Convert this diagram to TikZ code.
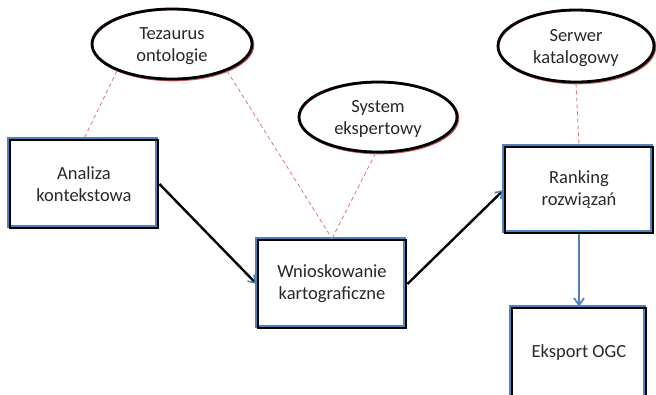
\documentclass[tikz,border=0pt]{standalone}
\usepackage{fontspec}
\setmainfont{Carlito}
\usetikzlibrary{shapes.geometric,arrows.meta}
\definecolor{txt}{RGB}{40,40,40}
\definecolor{pinkline}{RGB}{222,120,120}
\definecolor{boxblue}{RGB}{79,129,189}
\definecolor{ellred}{RGB}{200,90,90}
\tikzset{
  lbl/.style={font=\fontsize{18.5}{22}\selectfont, text=txt, align=center},
  boxnode/.style={lbl, draw=black, line width=2.8pt, rectangle, inner sep=0pt},
  ellnode/.style={lbl, draw=black, line width=2.8pt, ellipse, inner sep=0pt},
  boxshadow/.style={draw=boxblue, line width=2.2pt},
  ellshadow/.style={draw=ellred, line width=1.6pt},
  link/.style={draw=pinkline, line width=0.8pt, dash pattern=on 4pt off 3pt},
  flow/.style={draw=black, line width=2.4pt, -{Straight Barb[color=boxblue, length=7pt, width=9pt, line width=1.6pt]}},
  bflow/.style={draw=boxblue, line width=2.4pt, -{Straight Barb[length=7pt, width=10pt, line width=1.8pt]}}
}
\begin{document}
\begin{tikzpicture}[x=1pt,y=-1pt]
\useasboundingbox (0,0) rectangle (656,394);
\clip (0,0) rectangle (656,394);
% shadows (drawn first)
\draw[boxshadow] (8.5,138.5) rectangle (156.5,226.5);
\draw[boxshadow] (256.5,238.5) rectangle (404.5,326.5);
\draw[boxshadow] (503.5,145.5) rectangle (651.5,231.5);
\draw[boxshadow] (510.5,306.5) rectangle (644.5,420);
\draw[ellshadow] (173,45) ellipse [x radius=80.5, y radius=35.5];
\draw[ellshadow] (379,118) ellipse [x radius=79.5, y radius=35.5];
\draw[ellshadow] (577,47) ellipse [x radius=78.5, y radius=36.5];
% nodes
\node[ellnode, minimum width=160pt, minimum height=70pt] (tez) at (172,44) {};
\node[lbl] (tezt) at (172,46) {Tezaurus\\ontologie};
\node[ellnode, minimum width=158pt, minimum height=70pt] (sys) at (378,117) {};
\node[lbl] (syst) at (378,119) {System\\ekspertowy};
\node[ellnode, minimum width=156pt, minimum height=72pt] (ser) at (576,46) {};
\node[lbl] (sert) at (576,48) {Serwer\\katalogowy};
\node[boxnode, minimum width=148pt, minimum height=88pt] (ana) at (84,184) {Analiza\\kontekstowa};
\node[boxnode, minimum width=148pt, minimum height=88pt] (wn) at (332,284) {Wnioskowanie\\kartograficzne};
\node[boxnode, minimum width=148pt, minimum height=86pt] (rank) at (579,190) {Ranking\\rozwiązań};
\node[boxnode, minimum width=134pt, minimum height=114pt] (eks) at (579,365) {};
\node[lbl] (ekst) at (579,353) {Eksport OGC};
% dashed links
\draw[link] (tez.206) -- (ana.north);
\draw[link] (tez.334) -- (wn.north);
\draw[link] (sys.266) -- (wn.north);
\draw[link] (ser.south) -- (rank.north);
% flow arrows
\draw[flow] (ana.east) -- (wn.west);
\draw[flow] (wn.east) -- (rank.west);
\draw[bflow] (rank.south) -- (eks.north);
\end{tikzpicture}
\end{document}
